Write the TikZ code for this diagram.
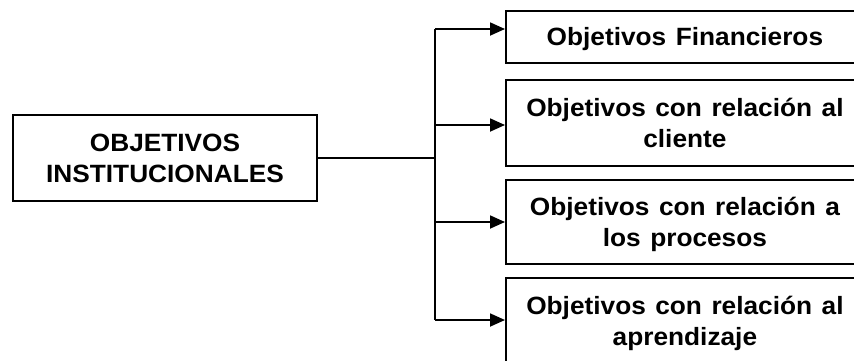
\documentclass[tikz,border=0pt]{standalone}
\usepackage{fontspec}
\setmainfont[FakeStretch=1.05,WordSpace=1.3]{Liberation Sans}
\usetikzlibrary{arrows.meta}
\begin{document}
\begin{tikzpicture}[x=1pt,y=-1pt,
  line width=1.8pt,
  box/.style={draw, rectangle, align=center, inner sep=0pt, text depth=0pt,
    font=\fontsize{25}{31}\selectfont\bfseries},
  rbox/.style={box, anchor=north west, minimum width=358pt},
  link/.style={-{Triangle[length=15pt,width=13pt]}}]
  % page area
  \fill[white] (0,0) rectangle (854,360);
  \useasboundingbox (0,0) rectangle (854,360);

  % main objective
  \node[box, minimum width=304pt, minimum height=86pt] (root) at (165,158)
    {OBJETIVOS\\INSTITUCIONALES};

  % perspective boxes
  \node[rbox, minimum height=52pt] (r1) at (505,10) {Objetivos Financieros};
  \node[rbox, minimum height=86pt] (r2) at (505,79) {Objetivos con relación al\\cliente};
  \node[rbox, minimum height=84pt] (r3) at (505,179) {Objetivos con relación a\\los procesos};
  \node[rbox, minimum height=86pt] (r4) at (505,277) {Objetivos con relación al\\aprendizaje};

  % branching spine
  \coordinate (j)  at (435,158);
  \coordinate (s1) at (435,29);
  \coordinate (s2) at (435,125);
  \coordinate (s3) at (435,222);
  \coordinate (s4) at (435,320);

  \draw (root.east) -- (j);
  \draw (s1) -- (s4);
  \draw[link] (s1) -- (s1 -| r1.west);
  \draw[link] (s2) -- (s2 -| r2.west);
  \draw[link] (s3) -- (s3 -| r3.west);
  \draw[link] (s4) -- (s4 -| r4.west);
\end{tikzpicture}
\end{document}
